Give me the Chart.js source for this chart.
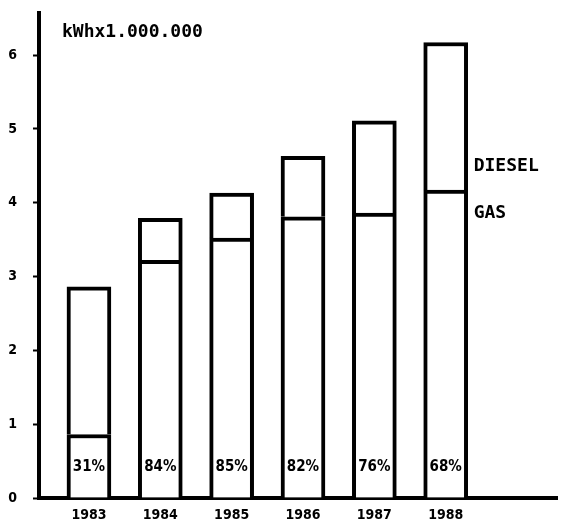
<!DOCTYPE html>
<html>
<head>
<meta charset="utf-8">
<script src="https://cdn.jsdelivr.net/npm/chart.js@4"></script>
<style>
  html, body { margin: 0; padding: 0; background: #fff; }
</style>
</head>
<body>
<canvas id="energyChart" width="563" height="530"></canvas>
<script>
// values (kWh x 1.000.000)
const years = [1983, 1984, 1985, 1986, 1987, 1988];
const gas = [0.86, 3.22, 3.52, 3.81, 3.86, 4.17];
const diesel = [2.00, 0.57, 0.61, 0.82, 1.25, 2.00];
const gasShare = ['31%', '84%', '85%', '82%', '76%', '68%'];
const yTicks = [0, 1, 2, 3, 4, 5, 6];
const unitLabel = 'kWhx1.000.000';
const seriesNames = ['GAS', 'DIESEL'];

const ink = '#000';
const boldFont = '"DejaVu Sans Condensed", "DejaVu Sans", sans-serif';
const monoFont = '"DejaVu Sans Mono", monospace';

// text that sits inside the plot: percentages, unit, series names
const textPlugin = {
    id: 'textPlugin',
    afterDraw(chart) {
        const { ctx, chartArea, scales: { x, y } } = chart;
        ctx.save();
        ctx.fillStyle = ink;
        ctx.textBaseline = 'middle';

        ctx.textAlign = 'center';
        ctx.font = 'bold 15px ' + boldFont;
        gasShare.forEach((s, i) => {
            ctx.fillText(s, x.getPixelForValue(years[i]), y.getPixelForValue(0.42));
        });

        ctx.textAlign = 'left';
        ctx.font = 'bold 18px ' + monoFont;
        ctx.fillText(unitLabel, chartArea.left + 23, y.getPixelForValue(6.31));

        const last = years.length - 1;
        const lx = x.getPixelForValue(years[last]) + 28;
        ctx.font = 'bold 18px ' + monoFont;
        ctx.fillText(seriesNames[1], lx, y.getPixelForValue(4.49));
        ctx.fillText(seriesNames[0], lx, y.getPixelForValue(3.86));
        ctx.restore();
    }
};

const barStyle = {
    backgroundColor: '#fff',
    borderColor: ink,
    borderWidth: { top: 4, left: 4, right: 4, bottom: 0 },
    borderSkipped: false,
    barThickness: 44
};

const chart = new Chart(document.getElementById('energyChart').getContext('2d'), {
    type: 'bar',
    data: {
        datasets: [
            Object.assign({ label: seriesNames[0], data: years.map((yr, i) => ({ x: yr, y: gas[i] })) }, barStyle),
            Object.assign({ label: seriesNames[1], data: years.map((yr, i) => ({ x: yr, y: diesel[i] })) }, barStyle)
        ]
    },
    options: {
        responsive: false,
        animation: false,
        layout: { padding: { top: 13, right: 6, left: 0, bottom: 0 } },
        scales: {
            x: {
                type: 'linear',
                stacked: true,
                offset: false,
                min: 1982.3,
                max: 1989.56,
                z: 1,
                afterBuildTicks: (scale) => { scale.ticks = years.map(v => ({ value: v })); },
                afterFit: (scale) => { scale.height = 32; },
                grid: { drawOnChartArea: false, drawTicks: false },
                border: { display: true, color: ink, width: 4 },
                ticks: {
                    color: ink,
                    padding: 9,
                    maxRotation: 0,
                    font: { family: boldFont, size: 14, weight: 'bold' },
                    callback: (v) => String(v)
                }
            },
            y: {
                stacked: true,
                min: 0,
                max: 6.57,
                afterBuildTicks: (scale) => { scale.ticks = yTicks.map(v => ({ value: v })); },
                afterFit: (scale) => {
                    scale.width = 39;
                    scale.paddingTop = 0;
                    scale.paddingBottom = 0;
                },
                grid: { drawOnChartArea: false, drawTicks: true, tickLength: 6, tickWidth: 2, tickColor: ink },
                border: { display: true, color: ink, width: 4 },
                ticks: {
                    color: ink,
                    padding: 16,
                    font: { family: boldFont, size: 14, weight: 'bold' }
                }
            }
        },
        plugins: {
            legend: { display: false },
            tooltip: { enabled: false }
        }
    },
    plugins: [textPlugin]
});
</script>
</body>
</html>
